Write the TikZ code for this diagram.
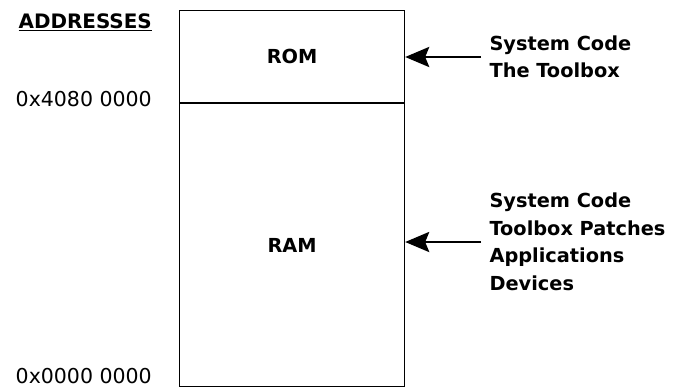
\documentclass[tikz,border=0pt]{standalone}
\usepackage{fontspec}
\setmainfont{DejaVu Sans}
\usetikzlibrary{arrows.meta}

\tikzset{
  memblock/.style = {draw, line width = 1pt, minimum width = 6.75cm,
                     inner sep = 0pt, font = \fontsize{16.5}{18}\selectfont\bfseries},
  note/.style     = {anchor = west, align = left, inner xsep = 0.25cm, inner ysep = 2pt,
                     font = \fontsize{16.5}{23.5}\selectfont\bfseries},
  addr/.style     = {anchor = base east, inner sep = 0pt, font = \fontsize{17.5}{20}\selectfont},
  pointer/.style  = {line width = 2.4pt, -{Stealth[length = 0.72cm, width = 0.6cm, inset = 0.12cm]}}
}

\begin{document}
\begin{tikzpicture}[x = 0.03cm, y = -0.03cm]
            \useasboundingbox (0, 0) rectangle (686, 388);
            % the memory map
            \node [memblock, minimum height = 2.76cm, anchor = north west] (rom) at (179, 10) {ROM};
            \node [memblock, minimum height = 8.49cm, anchor = north] (ram) at (rom.south) {RAM};
            % addresses
            \node [addr, font = \fontsize{17}{20}\selectfont\bfseries] (head) at (152, 28) {\underline{ADDRESSES}};
            \node [addr] (top) at (152, 106) {0x4080 0000};
            \node [addr] (base) at (152, 383) {0x0000 0000};
            % contents
            \node [note] (romnote) at (481, 57) {System Code\\The Toolbox};
            \node [note] (ramnote) at (481, 242) {System Code\\Toolbox Patches\\Applications\\Devices};
            \draw [pointer] (romnote.west) -- (romnote.west -| rom.east);
            \draw [pointer] (ramnote.west) -- (ramnote.west -| ram.east);
        \end{tikzpicture}
\end{document}
